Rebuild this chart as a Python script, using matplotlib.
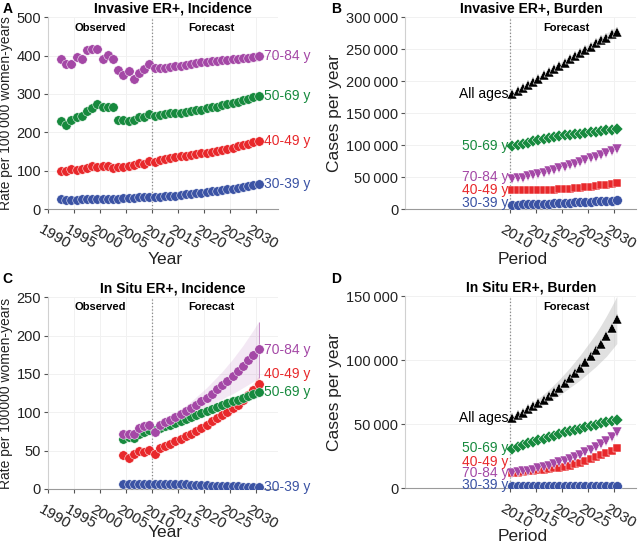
import numpy as np
import matplotlib
matplotlib.use('Agg')
import matplotlib.pyplot as plt
import matplotlib.transforms as mtransforms
from matplotlib.ticker import FuncFormatter

plt.rcParams['font.family'] = ['Liberation Sans', 'DejaVu Sans']

#########################
# COLOURS
#########################
C3039 = '#3b53a4'
C4049 = '#e8282b'
C5069 = '#178a3e'
C7084 = '#a448a6'
CALL = '#000000'

#########################
# DATA
#########################
obs_years_inv = list(range(1992, 2010))
obs_years_situ = list(range(2004, 2010))
fc_years = list(range(2010, 2031))

# A : invasive ER+ incidence per 100 000 women-years
inv_obs_3039 = [25, 23, 24, 24, 25, 25, 26, 26, 26, 27, 26, 27, 28, 28, 29, 30, 30, 30]
inv_obs_4049 = [100, 100, 103, 101, 104, 107, 112, 110, 112, 111, 108, 110, 110, 113, 115, 121, 118, 125]
inv_obs_5069 = [230, 219, 233, 240, 242, 255, 262, 273, 267, 267, 265, 233, 231, 229, 232, 240, 240, 248]
inv_obs_7084 = [390, 378, 377, 395, 390, 415, 416, 418, 390, 402, 390, 362, 348, 360, 340, 355, 365, 378]

inv_fc_3039 = [31, 32, 33, 34, 35, 36, 38, 40, 41, 43, 44, 46, 47, 49, 51, 53, 55, 57, 59, 62, 65]
inv_fc_4049 = [122, 128, 131, 133, 135, 137, 139, 141, 143, 145, 147, 149, 152, 154, 157, 160, 163, 166, 170, 174, 178]
inv_fc_5069 = [243, 246, 248, 249, 250, 251, 253, 255, 257, 259, 262, 265, 267, 270, 273, 276, 279, 283, 287, 291, 295]
inv_fc_7084 = [368, 367, 368, 370, 372, 374, 376, 378, 380, 382, 384, 385, 386, 388, 389, 390, 392, 393, 394, 396, 398]

inv_hw_3039 = [0.5, 0.5, 0.5, 0.5, 0.5, 1, 1, 1, 1, 1, 1, 1, 1, 1.5, 1.5, 1.5, 1.5, 2, 2, 2, 2]
inv_hw_4049 = [1, 1, 1, 1, 1, 2, 2, 2, 2, 2, 2, 3, 3, 3, 3, 3, 4, 4, 4, 4, 5]
inv_hw_5069 = [1, 1, 1, 1, 2, 2, 2, 2, 2, 3, 3, 3, 3, 3, 4, 4, 4, 4, 5, 5, 5]
inv_hw_7084 = [1, 2, 2, 3, 3, 4, 4, 5, 5, 6, 6, 7, 7, 8, 8, 9, 10, 10, 11, 12, 13]

# B : invasive ER+ burden, cases per year
invb_all = [180000, 184000, 189000, 194000, 199000, 204000, 209000, 214000, 219000, 224000, 229000,
            234000, 239000, 244000, 249000, 254000, 259000, 264000, 268000, 273000, 277000]
invb_5069 = [98000, 100000, 102000, 104000, 106000, 108000, 109000, 111000, 112000, 114000, 115000,
             116000, 117000, 118000, 119000, 120000, 121000, 122000, 123000, 124000, 125000]
invb_7084 = [47000, 48000, 49000, 51000, 53000, 55000, 57000, 59000, 61000, 64000, 66000,
             69000, 71000, 74000, 76000, 79000, 82000, 85000, 88000, 91000, 94000]
invb_4049 = [29000, 29000, 29000, 29000, 29000, 29500, 30000, 30000, 30500, 31000, 31500,
             32000, 32500, 33000, 34000, 35000, 36000, 37000, 38000, 39000, 40000]
invb_3039 = [6500, 7000, 7200, 7500, 7800, 8000, 8300, 8600, 9000, 9300, 9700,
             10000, 10400, 10800, 11200, 11600, 12000, 12400, 12800, 13200, 13600]
invb_hw_all = [1000, 1500, 2000, 2000, 2500, 3000, 3000, 3500, 4000, 4000, 4500,
               5000, 5000, 5500, 6000, 6000, 6500, 7000, 7000, 7500, 8000]

# C : in situ ER+ incidence per 100000 women-years
situ_obs_3039 = [6, 6, 6.5, 6.5, 7, 7]
situ_obs_4049 = [44, 40, 46, 49, 48.5, 51]
situ_obs_5069 = [64.5, 68, 66, 72, 74.5, 77]
situ_obs_7084 = [72, 72, 71.5, 79, 82, 83]

situ_fc_3039 = [7, 7, 7, 6.5, 6.5, 6, 6, 5.5, 5.5, 5, 5, 4.5, 4.5, 4, 4, 3.5, 3.5, 3, 3, 3, 3]
situ_fc_4049 = [46, 53, 56, 59, 62, 65, 69, 72, 76, 80, 84, 88, 92, 96, 100, 105, 110, 116, 122, 129, 137]
situ_fc_5069 = [77, 79.5, 82, 84, 86.5, 89, 91.5, 94, 96.5, 99, 101.5, 104, 106.5, 109, 111.5,
                114, 116.5, 119, 121.5, 124, 126.5]
situ_fc_7084 = [74, 84, 87.5, 90.5, 94, 97.5, 102, 106, 110, 114, 119, 124, 130, 135, 141,
                147, 154, 160, 168, 175, 182]

situ_lo_7084 = [73, 82, 85, 87, 90, 92, 95, 98, 101, 104, 107, 110, 114, 117, 121,
                124, 128, 132, 136, 140, 144]
situ_hi_7084 = [75, 86, 90, 94, 98, 103, 108, 114, 120, 126, 132, 139, 146, 153, 161,
                169, 178, 187, 197, 207, 218]
situ_hw_4049 = [1, 1, 2, 2, 2, 3, 3, 3, 4, 4, 4, 5, 5, 6, 6, 7, 7, 8, 8, 9, 10]
situ_hw_5069 = [1, 1, 1, 2, 2, 2, 2, 3, 3, 3, 3, 4, 4, 4, 5, 5, 5, 6, 6, 7, 7]

# D : in situ ER+ burden, cases per year
situb_all = [55000, 57000, 59000, 61500, 64000, 66500, 69000, 72000, 75000, 78500, 82000,
             86000, 90000, 94000, 98500, 103000, 108000, 113000, 119000, 125500, 132500]
situb_lo_all = [54000, 55500, 57000, 59000, 61000, 63000, 65000, 67500, 70000, 72500, 75500,
                78500, 81500, 84500, 88000, 91500, 95000, 99000, 103000, 108000, 113000]
situb_hi_all = [56000, 58500, 61000, 64000, 67000, 70000, 73500, 77000, 81000, 85000, 89500,
                94000, 99000, 104000, 109500, 115000, 121000, 127500, 134500, 142000, 150000]
situb_5069 = [30500, 32000, 33500, 35000, 36000, 37500, 38500, 40000, 41000, 42000, 43500,
              44500, 45500, 46500, 47500, 48500, 49500, 50500, 51500, 52500, 53500]
situb_7084 = [12000, 12500, 13000, 13500, 14500, 15500, 16500, 17500, 19000, 20000, 21500,
              23000, 24500, 26000, 28000, 30000, 32000, 34500, 37000, 40000, 43500]
situb_4049 = [11500, 12000, 12500, 13000, 13500, 14000, 14500, 15000, 15500, 16000, 16500,
              17500, 18500, 19500, 21000, 22500, 24000, 25500, 27500, 29000, 31000]
situb_3039 = [1600, 1600, 1600, 1600, 1600, 1600, 1600, 1600, 1600, 1600, 1600,
              1600, 1600, 1600, 1600, 1500, 1500, 1500, 1500, 1500, 1500]

# labels
age_labels = ['30-39 y', '40-49 y', '50-69 y', '70-84 y']
a_label_y = [65, 178, 295, 398]
c_label_y = [3, 150, 126, 181]
b_label_y = [9000, 30000, 98000, 50000, 180000]
d_label_y = [2000, 20500, 31500, 12000, 55000]

XLIM = [1990, 2034.2]
years_all_ticks = [1990, 1995, 2000, 2005, 2010, 2015, 2020, 2025, 2030]
years_fc_ticks = [2010, 2015, 2020, 2025, 2030]


def xs(years):
    # points sit in the middle of the year
    return np.array(years) + 0.5


def thin_fmt(v, pos):
    return '{:,}'.format(int(v)).replace(',', '\u2009')


def style_axes(ax, ylim, yticks, xticks, xlabel, ylabel, ylabx, xlaby):
    ax.set_xlim(XLIM)
    ax.set_ylim(ylim)
    ax.set_yticks(yticks)
    ax.set_xticks(xticks)
    for s in ['top', 'right']:
        ax.spines[s].set_visible(False)
    ax.spines['left'].set_color('#d0d0d0')
    ax.spines['bottom'].set_color('#9a9a9a')
    ax.spines['left'].set_linewidth(0.8)
    ax.spines['bottom'].set_linewidth(0.8)
    ax.grid(True, color='#f1f1f1', linewidth=0.7, zorder=0)
    ax.set_axisbelow(True)
    ax.tick_params(axis='y', length=3, width=0.8, color='#555555', labelsize=10.5, pad=2, labelcolor='#222222')
    ax.tick_params(axis='x', length=3, width=0.8, color='#555555', labelsize=11, pad=7, labelcolor='#222222')
    offset = mtransforms.ScaledTranslation(-5 / 100, 0, ax.figure.dpi_scale_trans)
    for lab in ax.get_xticklabels():
        lab.set_rotation(-30)
        lab.set_ha('left')
        lab.set_va('top')
        lab.set_rotation_mode('anchor')
        lab.set_transform(lab.get_transform() + offset)
    ax.set_xlabel(xlabel, fontsize=12.5, color='#222222')
    ax.xaxis.set_label_coords(0.51, xlaby)
    ax.set_ylabel(ylabel, fontsize=10 if 'Rate' in ylabel else 12.5, color='#222222')
    ax.yaxis.set_label_coords(ylabx, 0.5)
    ax.axvline(2010, color='#888888', linestyle=':', linewidth=0.9, zorder=1)


def dots(ax, x, y, color, marker='o', ms=6.8):
    ax.plot(x, y, linestyle='none', marker=marker, ms=ms, color=color,
            mec='white', mew=0.35, zorder=3)


def title(ax, txt):
    ax.text(0.545, 1.022, txt, transform=ax.transAxes, fontsize=10, fontweight='bold',
            ha='center', va='baseline')


fig = plt.figure(figsize=(6.4, 5.45), dpi=100)
axA = fig.add_axes([0.075, 0.6165, 0.359, 0.352])
axB = fig.add_axes([0.633, 0.6165, 0.361, 0.352])
axC = fig.add_axes([0.075, 0.1028, 0.359, 0.352])
axD = fig.add_axes([0.633, 0.1045, 0.361, 0.352])

cols = [C3039, C4049, C5069, C7084]

#########################
# A
#########################
style_axes(axA, [0, 500], [0, 100, 200, 300, 400, 500], years_all_ticks, 'Year',
           'Rate per 100\u2009000 women-years', -0.152, -0.225)
xf = xs(fc_years)
for fc, hw, c in zip([inv_fc_3039, inv_fc_4049, inv_fc_5069, inv_fc_7084],
                     [inv_hw_3039, inv_hw_4049, inv_hw_5069, inv_hw_7084], cols):
    lo = np.array(fc) - np.array(hw)
    hi = np.array(fc) + np.array(hw)
    axA.fill_between(xf, lo, hi, color=c, alpha=0.15, linewidth=0, zorder=2)
    axA.vlines(xf[-1], lo[-1], hi[-1], color=c, linewidth=0.5, alpha=0.6, zorder=2)
for obs, fc, c in zip([inv_obs_3039, inv_obs_4049, inv_obs_5069, inv_obs_7084],
                      [inv_fc_3039, inv_fc_4049, inv_fc_5069, inv_fc_7084], cols):
    dots(axA, xs(obs_years_inv), obs, c)
    dots(axA, xf, fc, c)
for lab, yy, c in zip(age_labels, a_label_y, cols):
    axA.text(2031.6, yy, lab, color=c, fontsize=10, va='center', ha='left')
axA.text(0.226, 0.943, 'Observed', transform=axA.transAxes, fontsize=8, fontweight='bold', ha='center', va='center')
axA.text(0.713, 0.943, 'Forecast', transform=axA.transAxes, fontsize=8, fontweight='bold', ha='center', va='center')
title(axA, 'Invasive ER+, Incidence')

#########################
# B
#########################
style_axes(axB, [0, 300000], [0, 50000, 100000, 150000, 200000, 250000, 300000], years_fc_ticks, 'Period',
           'Cases per year', -0.273, -0.224)
axB.yaxis.set_major_formatter(FuncFormatter(thin_fmt))
lo = np.array(invb_all) - np.array(invb_hw_all)
hi = np.array(invb_all) + np.array(invb_hw_all)
axB.fill_between(xf, lo, hi, color='#bbbbbb', alpha=0.4, linewidth=0, zorder=2)
dots(axB, xf, invb_3039, C3039, 'o', 7)
dots(axB, xf, invb_4049, C4049, 's', 6)
dots(axB, xf, invb_5069, C5069, 'D', 6)
dots(axB, xf, invb_7084, C7084, 'v', 7.5)
dots(axB, xf, invb_all, CALL, '^', 7.5)
for lab, yy, c in zip(age_labels + ['All ages'], b_label_y, cols + [CALL]):
    axB.text(2009.7, yy, lab, color=c, fontsize=10, va='center', ha='right')
axB.text(0.70, 0.943, 'Forecast', transform=axB.transAxes, fontsize=8, fontweight='bold', ha='center', va='center')
title(axB, 'Invasive ER+, Burden')

#########################
# C
#########################
style_axes(axC, [0, 250], [0, 50, 100, 150, 200, 250], years_all_ticks, 'Year',
           'Rate per 100000 women-years', -0.152, -0.19)
axC.fill_between(xf, situ_lo_7084, situ_hi_7084, color=C7084, alpha=0.12, linewidth=0, zorder=2)
axC.vlines(xf[-1], situ_lo_7084[-1], situ_hi_7084[-1], color=C7084, linewidth=0.6, alpha=0.7, zorder=2)
for fc, hw, c in zip([situ_fc_4049, situ_fc_5069], [situ_hw_4049, situ_hw_5069], [C4049, C5069]):
    lo = np.array(fc) - np.array(hw)
    hi = np.array(fc) + np.array(hw)
    axC.fill_between(xf, lo, hi, color=c, alpha=0.12, linewidth=0, zorder=2)
for obs, fc, c in zip([situ_obs_3039, situ_obs_4049, situ_obs_5069, situ_obs_7084],
                      [situ_fc_3039, situ_fc_4049, situ_fc_5069, situ_fc_7084], cols):
    dots(axC, xs(obs_years_situ), obs, c)
    dots(axC, xf, fc, c)
for lab, yy, c in zip(age_labels, c_label_y, cols):
    axC.text(2031.6, yy, lab, color=c, fontsize=10, va='center', ha='left')
axC.text(0.226, 0.948, 'Observed', transform=axC.transAxes, fontsize=8, fontweight='bold', ha='center', va='center')
axC.text(0.713, 0.948, 'Forecast', transform=axC.transAxes, fontsize=8, fontweight='bold', ha='center', va='center')
title(axC, 'In Situ ER+, Incidence')

#########################
# D
#########################
style_axes(axD, [0, 150000], [0, 50000, 100000, 150000], years_fc_ticks, 'Period',
           'Cases per year', -0.273, -0.215)
axD.yaxis.set_major_formatter(FuncFormatter(thin_fmt))
axD.fill_between(xf, situb_lo_all, situb_hi_all, color='#bbbbbb', alpha=0.45, linewidth=0, zorder=2)
dots(axD, xf, situb_3039, C3039, 'o', 7)
dots(axD, xf, situb_4049, C4049, 's', 6)
dots(axD, xf, situb_5069, C5069, 'D', 6)
dots(axD, xf, situb_7084, C7084, 'v', 7.5)
dots(axD, xf, situb_all, CALL, '^', 7.5)
for lab, yy, c in zip(age_labels + ['All ages'], d_label_y, cols + [CALL]):
    axD.text(2009.7, yy, lab, color=c, fontsize=10, va='center', ha='right')
axD.text(0.70, 0.943, 'Forecast', transform=axD.transAxes, fontsize=8, fontweight='bold', ha='center', va='center')
title(axD, 'In Situ ER+, Burden')

#########################
# panel letters
#########################
for letter, x, y in [('A', 0.004, 0.996), ('B', 0.518, 0.996), ('C', 0.004, 0.501), ('D', 0.518, 0.501)]:
    fig.text(x, y, letter, fontsize=10, fontweight='bold', ha='left', va='top')

fig.savefig('out.png', dpi=100)
